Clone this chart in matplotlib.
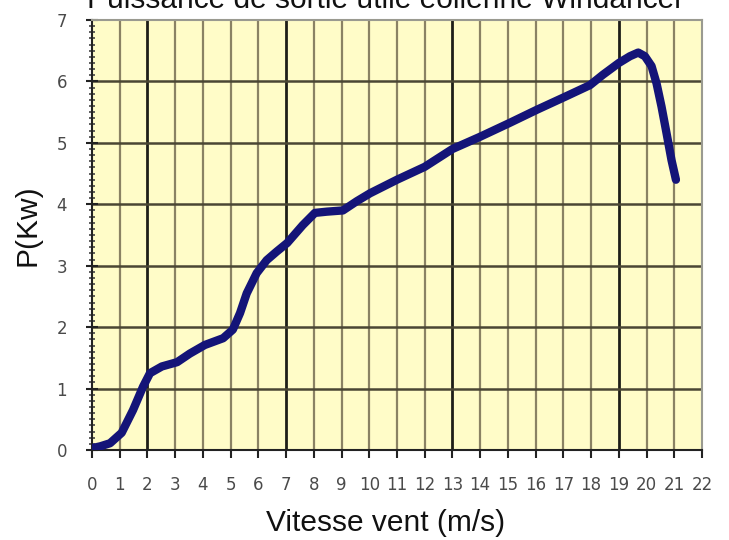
import matplotlib
matplotlib.use('Agg')
import matplotlib.pyplot as plt
from matplotlib.ticker import MultipleLocator

# wind speed (m/s) and useful output power (kW)
vitesse = [0.0, 0.3, 0.65, 1.07, 1.48, 1.84, 2.09, 2.52, 3.07, 3.53, 4.07, 4.73,
           5.08, 5.34, 5.58, 5.94, 6.3, 6.66, 7.04, 7.6, 8.04, 8.47, 9.05, 9.55,
           10.03, 11.0, 12.0, 13.0, 14.0, 15.04, 16.05, 17.06, 17.96, 18.43,
           19.0, 19.4, 19.7, 19.94, 20.18, 20.36, 20.54, 20.72, 20.9, 21.06]
puissance = [0.03, 0.06, 0.11, 0.28, 0.65, 1.03, 1.25, 1.36, 1.43, 1.57, 1.71, 1.82,
             1.96, 2.23, 2.55, 2.88, 3.09, 3.23, 3.37, 3.66, 3.86, 3.88, 3.9, 4.05,
             4.18, 4.4, 4.61, 4.9, 5.1, 5.32, 5.54, 5.75, 5.94, 6.11,
             6.3, 6.41, 6.47, 6.41, 6.25, 5.97, 5.59, 5.16, 4.72, 4.4]

x_ticks = list(range(0, 23))
y_ticks = list(range(0, 8))
thick_lines = [2, 7, 13, 19]

title = 'Puissance de sortie utile eolienne Windancer'
xlabel = 'Vitesse vent (m/s)'
ylabel = 'P(Kw)'

plt.rcParams['font.family'] = ['Liberation Sans', 'DejaVu Sans']

fig = plt.figure(figsize=(7.29, 5.4), dpi=100)
ax = fig.add_axes([92 / 729, 90 / 540, 610 / 729, 430 / 540])
ax.set_facecolor('#fffcc8')

# grid
for x in x_ticks[1:-1]:
    if x in thick_lines:
        ax.axvline(x, color='#1e1e18', lw=2.0, zorder=1)
    else:
        ax.axvline(x, color='#8a8264', lw=1.6, zorder=1)
for y in y_ticks[1:-1]:
    ax.axhline(y, color='#4a4634', lw=1.8, zorder=1)

ax.plot(vitesse, puissance, color='#141478', lw=6,
        solid_capstyle='round', solid_joinstyle='round', zorder=3)

ax.set_xlim(0, 22)
ax.set_ylim(0, 7)
ax.set_xticks(x_ticks)
ax.set_yticks(y_ticks)
ax.yaxis.set_minor_locator(MultipleLocator(0.1))

for s in ['left', 'bottom']:
    ax.spines[s].set_color('#222222')
    ax.spines[s].set_linewidth(1.5)
for s in ['top', 'right']:
    ax.spines[s].set_color('#9a9a90')
    ax.spines[s].set_linewidth(1.5)

tick_font = ['Liberation Sans Narrow', 'DejaVu Sans']
ax.tick_params(axis='x', which='major', direction='out', length=6, width=1.5,
               color='#222222', pad=13, labelsize=12, labelcolor='#4a4a4a')
ax.tick_params(axis='y', which='major', direction='inout', length=8, width=1.5,
               color='#222222', pad=14, labelsize=12, labelcolor='#4a4a4a')
ax.tick_params(axis='y', which='minor', direction='inout', length=5, width=1.2,
               color='#444444')
for lab in ax.get_xticklabels() + ax.get_yticklabels():
    lab.set_family(tick_font)

fig.text(386 / 729, 1 - 8 / 540, title, ha='center', va='baseline',
         fontsize=21.5, color='#111111')
fig.text(386 / 729, 1 - 531 / 540, xlabel, ha='center', va='baseline',
         fontsize=21.5, color='#111111')
fig.text(28 / 729, 1 - 225 / 540, ylabel, ha='center', va='center',
         rotation=90, fontsize=21.5, color='#111111')

fig.savefig('out.png', dpi=100)
